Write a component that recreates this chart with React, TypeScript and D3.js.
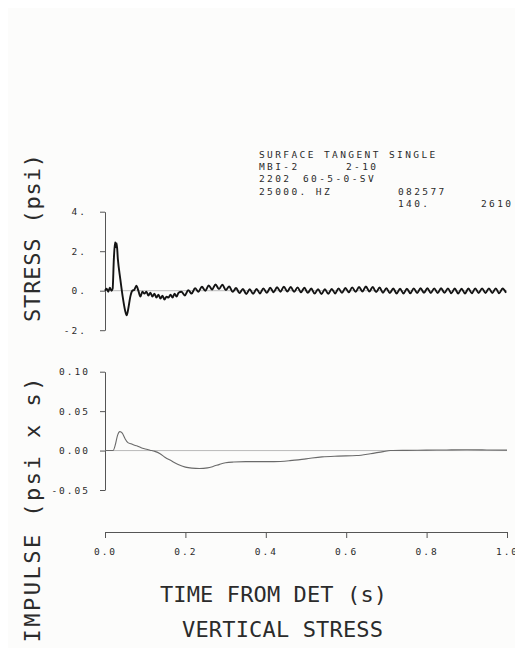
import React, { useEffect, useRef } from "react";
import * as d3 from "d3";

// header block (plotter annotation)
const headerLines: [string, string, string][] = [
  ["SURFACE TANGENT SINGLE", "", ""],
  ["MBI-2", "2-10", ""],
  ["2202", "60-5-0-SV", ""],
  ["25000. HZ", "", "082577"],
  ["", "140.", "2610"],
];

// axis ticks + labels
const timeTicks = [0, 0.2, 0.4, 0.6, 0.8, 1.0];
const timeTickLabels = ["0.0", "0.2", "0.4", "0.6", "0.8", "1.0"];
const stressTicks = [4, 2, 0, -2];
const stressTickLabels = ["4.", "2.", "0.", "-2."];
const impulseTicks = [0.1, 0.05, 0, -0.05];
const impulseTickLabels = ["0.10", "0.05", "0.00", "-0.05"];

// stress trace: transient part [t, psi]
const stressTransient: [number, number][] = [
  [0.0, 0.0], [0.004, 0.1], [0.008, -0.05], [0.012, 0.15], [0.016, 0.0],
  [0.019, 0.1], [0.022, 1.6], [0.025, 2.45], [0.027, 2.2], [0.029, 2.4],
  [0.032, 1.6], [0.038, 0.6], [0.044, -0.3], [0.05, -1.0], [0.054, -1.25],
  [0.058, -0.9], [0.063, -0.3], [0.068, 0.0], [0.073, 0.05], [0.078, 0.25],
  [0.083, 0.0], [0.088, -0.3], [0.093, -0.05], [0.098, -0.15], [0.103, -0.05],
  [0.108, -0.25], [0.113, -0.1], [0.118, -0.3], [0.123, -0.15], [0.128, -0.35],
  [0.133, -0.2], [0.138, -0.4], [0.143, -0.25], [0.148, -0.45], [0.153, -0.3],
  [0.158, -0.35], [0.163, -0.2], [0.168, -0.35], [0.173, -0.15], [0.178, -0.3],
  [0.183, -0.1],
];

// stress trace after 0.19 s: ~60 Hz ripple, one value per half cycle
const rippleStart = 0.19;
const rippleStep = 0.0085;
const stressRipple = [
  -0.05, -0.24, 0.03, -0.15, 0.13, -0.05, 0.2, 0.0, 0.27, 0.06,
  0.32, 0.08, 0.31, 0.03, 0.22, -0.06, 0.14, -0.12, 0.09, -0.17,
  0.07, -0.16, 0.09, -0.14, 0.12, -0.11, 0.15, -0.08, 0.18, -0.05,
  0.2, -0.04, 0.19, -0.06, 0.17, -0.08, 0.15, -0.11, 0.11, -0.15,
  0.08, -0.17, 0.07, -0.16, 0.09, -0.14, 0.12, -0.11, 0.14, -0.08,
  0.17, -0.06, 0.19, -0.04, 0.22, -0.04, 0.19, -0.07, 0.16, -0.1,
  0.13, -0.12, 0.11, -0.14, 0.1, -0.14, 0.1, -0.13, 0.12, -0.12,
  0.13, -0.11, 0.13, -0.12, 0.12, -0.12, 0.13, -0.11, 0.12, -0.13,
  0.11, -0.14, 0.1, -0.14, 0.11, -0.13, 0.12, -0.12, 0.12, -0.12,
  0.12, -0.12, 0.12, -0.13, 0.11, -0.1,
];

// impulse trace [t, psi*s]
const impulse: [number, number][] = [
  [0, 0], [0.02, 0], [0.026, 0.008], [0.031, 0.019], [0.037, 0.024],
  [0.043, 0.022], [0.05, 0.015], [0.057, 0.01], [0.065, 0.0085], [0.072, 0.007],
  [0.079, 0.006], [0.09, 0.0035], [0.1, 0.002], [0.112, 0.0005], [0.124, -0.001],
  [0.137, -0.004], [0.149, -0.0084], [0.165, -0.013], [0.182, -0.0177], [0.2, -0.021],
  [0.216, -0.0223], [0.235, -0.0228], [0.255, -0.022], [0.27, -0.02], [0.285, -0.0175],
  [0.3, -0.0155], [0.32, -0.0145], [0.35, -0.014], [0.38, -0.014], [0.42, -0.014],
  [0.46, -0.0128], [0.5, -0.0105], [0.54, -0.008], [0.58, -0.007], [0.626, -0.0063],
  [0.66, -0.004], [0.692, -0.0013], [0.71, 0], [0.75, 0.0003], [0.8, 0.0005],
  [0.85, 0.0008], [0.9, 0.001], [0.95, 0.0008], [1.0, 0.0005],
];

const W = 523;
const H = 656;
const mono = "'DejaVu Sans Mono', monospace";
const ink = "#2b2b2b";

const App = () => {
  const svgRef = useRef<SVGSVGElement>(null);

  useEffect(() => {
    const svg = d3.select(svgRef.current);
    svg.selectAll("*").remove();

    const x = d3.scaleLinear().domain([0, 1]).range([105, 507]);
    const yS = d3.scaleLinear().domain([-2, 4]).range([330.2, 211.7]);
    const yI = d3.scaleLinear().domain([-0.05, 0.1]).range([490, 371.7]);

    svg.append("rect").attr("width", W).attr("height", H).attr("fill", "#fcfcfb");

    const styleAxis = (g: any) => {
      g.selectAll("path").attr("stroke", "#555").attr("stroke-width", 1);
      g.selectAll("line").attr("stroke", "#555").attr("stroke-width", 1);
      g.selectAll("text")
        .attr("fill", ink)
        .style("font-family", mono)
        .style("font-size", "9.5px")
        .style("letter-spacing", "2px");
    };

    // stress axis
    svg
      .append("g")
      .attr("transform", "translate(105,0)")
      .call(
        d3
          .axisLeft(yS)
          .tickValues(stressTicks)
          .tickFormat((d, i) => stressTickLabels[i])
          .tickSize(5)
          .tickSizeOuter(0)
          .tickPadding(13)
      )
      .call(styleAxis);

    // impulse axis
    svg
      .append("g")
      .attr("transform", "translate(105,0)")
      .call(
        d3
          .axisLeft(yI)
          .tickValues(impulseTicks)
          .tickFormat((d, i) => impulseTickLabels[i])
          .tickSize(5)
          .tickSizeOuter(0)
          .tickPadding(10)
      )
      .call(styleAxis);

    // time axis
    svg
      .append("g")
      .attr("transform", "translate(0,532)")
      .call(
        d3
          .axisBottom(x)
          .tickValues(timeTicks)
          .tickFormat((d, i) => timeTickLabels[i])
          .tickSize(6)
          .tickSizeOuter(0)
          .tickPadding(10)
      )
      .call(styleAxis);

    // zero lines
    svg
      .append("line")
      .attr("x1", x(0)).attr("x2", x(1))
      .attr("y1", yS(0)).attr("y2", yS(0))
      .attr("stroke", "#aaa").attr("stroke-width", 0.8);
    svg
      .append("line")
      .attr("x1", x(0)).attr("x2", x(1))
      .attr("y1", yI(0)).attr("y2", yI(0))
      .attr("stroke", "#aaa").attr("stroke-width", 0.8);

    const stressPts: [number, number][] = [
      ...stressTransient,
      ...stressRipple.map((v, i) => [rippleStart + i * rippleStep, v] as [number, number]),
    ];

    const lineS = d3
      .line<[number, number]>()
      .x((d) => x(d[0]))
      .y((d) => yS(d[1]))
      .curve(d3.curveMonotoneX);
    svg
      .append("path")
      .attr("d", lineS(stressPts))
      .attr("fill", "none")
      .attr("stroke", "#141414")
      .attr("stroke-width", 1.9)
      .attr("stroke-linejoin", "round");

    const lineI = d3
      .line<[number, number]>()
      .x((d) => x(d[0]))
      .y((d) => yI(d[1]))
      .curve(d3.curveMonotoneX);
    svg
      .append("path")
      .attr("d", lineI(impulse))
      .attr("fill", "none")
      .attr("stroke", "#6a6a6a")
      .attr("stroke-width", 1.1);

    // header annotation
    const hdr = svg
      .append("g")
      .style("font-family", mono)
      .style("font-size", "9.5px")
      .style("letter-spacing", "2.4px")
      .attr("fill", ink);
    const colX = [259, 346, 398];
    headerLines.forEach((row, r) => {
      row.forEach((txt, c) => {
        if (!txt) return;
        let cx = colX[c];
        if (r === 2 && c === 1) cx = 303;
        if (r === 4 && c === 1) cx = 398;
        if (r === 4 && c === 2) cx = 481;
        hdr.append("text").attr("x", cx).attr("y", 158 + r * 12.2).text(txt);
      });
    });

    // titles
    const big = (t: string, len: number) =>
      svg
        .append("text")
        .attr("fill", ink)
        .style("font-family", mono)
        .style("font-size", "22px")
        .attr("textLength", len)
        .attr("lengthAdjust", "spacing")
        .text(t);

    big("TIME FROM DET (s)", 227).attr("x", 160).attr("y", 602);
    big("VERTICAL STRESS", 201).attr("x", 182).attr("y", 637);
    big("STRESS (psi)", 168)
      .attr("text-anchor", "middle")
      .attr("transform", "translate(40,238) rotate(-90)");
    big("IMPULSE (psi x s)", 265)
      .attr("text-anchor", "middle")
      .attr("transform", "translate(40,510) rotate(-90)");
  }, []);

  return <svg ref={svgRef} width={W} height={H} style={{ display: "block" }} />;
};

export default function Root() {
  return (
    <div style={{ margin: -8 }}>
      <App />
    </div>
  );
}
